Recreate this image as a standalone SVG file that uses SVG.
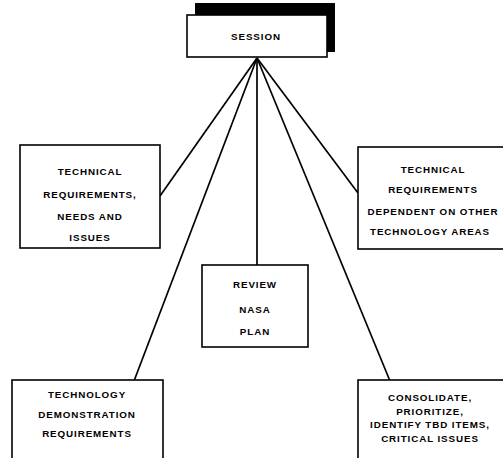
<svg xmlns="http://www.w3.org/2000/svg" width="503" height="458" viewBox="0 0 503 458">
<style>
.box{fill:#fff;stroke:#000;stroke-width:1.6}
.t{font-family:"Liberation Sans",Arial,sans-serif;font-weight:bold;font-size:9.8px;letter-spacing:0.9px;text-anchor:middle;fill:#000}
.c{stroke:#000;stroke-width:1.7;fill:none}
</style>
<rect width="503" height="458" fill="#fff"/>
<g id="connectors">
<line class="c" x1="257" y1="58" x2="160" y2="196"/>
<line class="c" x1="257" y1="58" x2="358" y2="193"/>
<line class="c" x1="257" y1="58" x2="257" y2="266"/>
<line class="c" x1="257" y1="58" x2="134" y2="381"/>
<line class="c" x1="257" y1="58" x2="390" y2="381"/>
</g>
<g id="session">
<rect x="195" y="3" width="140" height="49" fill="#000"/>
<rect class="box" x="187" y="15" width="140" height="42"/>
<text class="t" x="256" y="40">SESSION</text>
</g>
<g id="tech-req">
<rect class="box" x="20" y="145" width="140" height="103"/>
<text class="t" x="90" y="175">TECHNICAL</text>
<text class="t" x="90" y="198">REQUIREMENTS,</text>
<text class="t" x="90" y="220">NEEDS AND</text>
<text class="t" x="90" y="241">ISSUES</text>
</g>
<g id="tech-dep">
<rect class="box" x="358" y="147" width="150" height="102"/>
<text class="t" x="433" y="173">TECHNICAL</text>
<text class="t" x="433" y="193">REQUIREMENTS</text>
<text class="t" x="433" y="215">DEPENDENT ON OTHER</text>
<text class="t" x="430" y="235">TECHNOLOGY AREAS</text>
</g>
<g id="review">
<rect class="box" x="202" y="265" width="106" height="82"/>
<text class="t" x="255" y="288">REVIEW</text>
<text class="t" x="255" y="313">NASA</text>
<text class="t" x="255" y="335">PLAN</text>
</g>
<g id="tech-demo">
<rect class="box" x="12" y="380" width="151" height="90"/>
<text class="t" x="87" y="398">TECHNOLOGY</text>
<text class="t" x="87" y="418">DEMONSTRATION</text>
<text class="t" x="87" y="437">REQUIREMENTS</text>
</g>
<g id="consolidate">
<rect class="box" x="358" y="380" width="150" height="90"/>
<text class="t" x="430" y="401">CONSOLIDATE,</text>
<text class="t" x="430" y="415">PRIORITIZE,</text>
<text class="t" x="430" y="428">IDENTIFY TBD ITEMS,</text>
<text class="t" x="430" y="442">CRITICAL ISSUES</text>
</g>
</svg>
